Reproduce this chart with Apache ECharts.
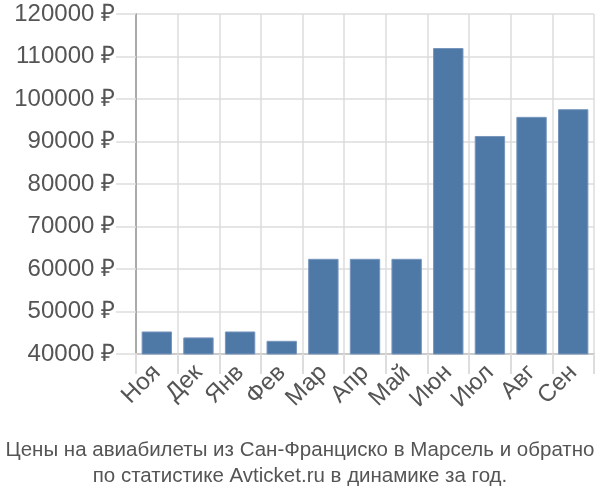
<!DOCTYPE html>
<html><head><meta charset="utf-8">
<script src="https://cdn.jsdelivr.net/npm/echarts@6/dist/echarts.min.js"></script>
<style>html,body{margin:0;padding:0;background:#fff}#c{width:600px;height:500px}</style>
</head><body><div id="c"></div>
<script>
const categories = ['Ноя','Дек','Янв','Фев','Мар','Апр','Май','Июн','Июл','Авг','Сен'];
const prices = [45300, 43900, 45300, 43100, 62400, 62400, 62400, 112000, 91300, 95800, 97600];
const titleLines = ['Цены на авиабилеты из Сан-Франциско в Марсель и обратно', 'по статистике Avticket.ru в динамике за год.'];
const yMin = 40000, yMax = 120000, yStep = 10000;

const chart = echarts.init(document.getElementById('c'), null, {renderer:'canvas'});
chart.setOption({
  animation: false,
  title: {
    text: titleLines.join('\n'),
    left: 'center', top: 432,
    textStyle: {fontFamily: '"Liberation Sans", Arial, sans-serif', fontSize: 20.5, fontWeight: 'normal', color: '#555', lineHeight: 26}
  },
  grid: {left: 136, right: 6, top: 14, bottom: 146, containLabel: false},
  xAxis: {
    type: 'category', data: categories,
    axisLine: {show: true, lineStyle: {color: '#ccc', width: 2}},
    axisTick: {show: true, length: 20, alignWithLabel: false, lineStyle: {color: '#ddd', width: 2}},
    splitLine: {show: true, lineStyle: {color: '#ddd', width: 1.5}},
    axisLabel: {rotate: 45, fontSize: 24, color: '#555', margin: 15, fontFamily: '"Liberation Sans", Arial, sans-serif', interval: 0}
  },
  yAxis: {
    type: 'value', min: yMin, max: yMax, interval: yStep,
    axisLine: {show: true, lineStyle: {color: '#aaa', width: 2}},
    axisTick: {show: true, length: 20, lineStyle: {color: '#ddd', width: 1.5}},
    splitLine: {show: true, lineStyle: {color: '#ddd', width: 1.5}},
    axisLabel: {fontSize: 24, color: '#555', margin: 21, fontFamily: '"Liberation Sans", Arial, sans-serif',
      formatter: v => v + ' ₽'}
  },
  series: [{
    type: 'bar', data: prices, barCategoryGap: '27%',
    itemStyle: {color: '#4e78a6', borderColor: '#7896bd', borderWidth: 1}
  }]
});
</script></body></html>
